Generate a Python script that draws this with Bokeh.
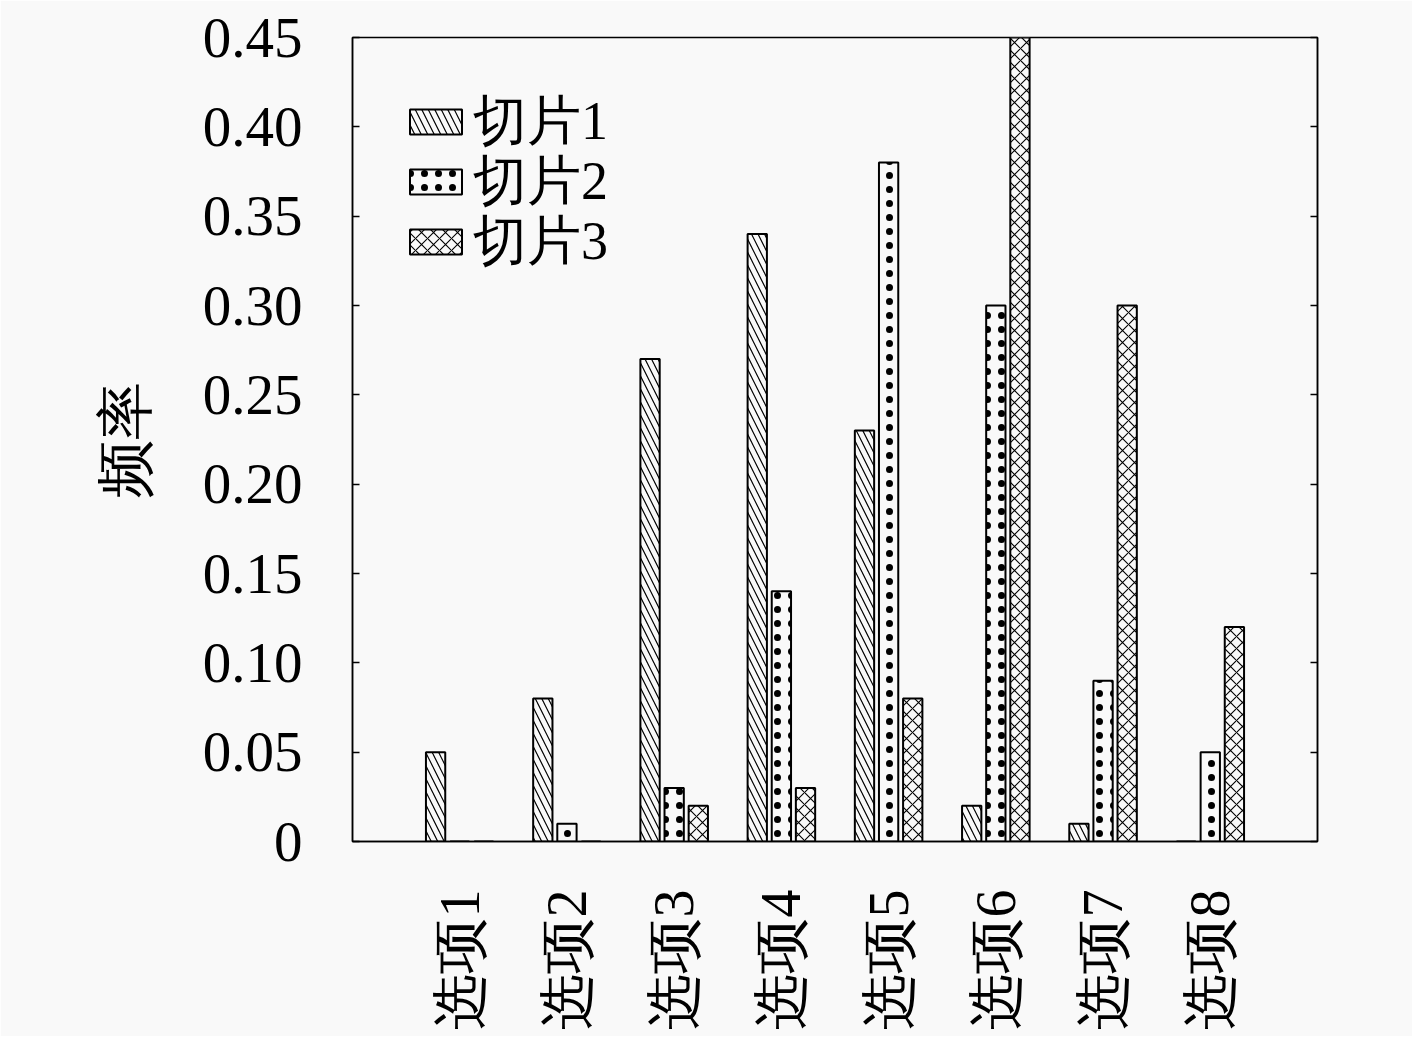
import numpy as np
from bokeh.plotting import figure
from bokeh.models import Range1d, FixedTicker, LinearAxis, Legend, LegendItem
from bokeh.embed import file_html
from bokeh.resources import INLINE

categories = ["选项1", "选项2", "选项3", "选项4", "选项5", "选项6", "选项7", "选项8"]
series_names = ["切片1", "切片2", "切片3"]
slice1 = [0.05, 0.08, 0.27, 0.34, 0.23, 0.02, 0.01, 0.00]
slice2 = [0.00, 0.01, 0.03, 0.14, 0.38, 0.30, 0.09, 0.05]
slice3 = [0.00, 0.00, 0.02, 0.03, 0.08, 0.45, 0.30, 0.12]
y_ticks = [0, 0.05, 0.10, 0.15, 0.20, 0.25, 0.30, 0.35, 0.40, 0.45]
y_tick_labels = ["0", "0.05", "0.10", "0.15", "0.20", "0.25", "0.30", "0.35", "0.40", "0.45"]

BG = "#f9f9f9"
SERIF = "Liberation Serif"

p = figure(width=1412, height=1036, output_backend="svg", toolbar_location=None,
           x_range=Range1d(-1, 8), y_range=Range1d(0, 0.45),
           min_border_left=352, min_border_right=95, min_border_top=37, min_border_bottom=195)
p.background_fill_color = BG
p.border_fill_color = BG
p.outline_line_color = "black"
p.outline_line_width = 1.5
p.grid.visible = False

idx = np.arange(len(categories))
width = 0.18
offs = [-0.225, 0.0, 0.225]
hatches = [dict(hatch_pattern="left_diagonal_line", hatch_scale=13, hatch_weight=1.2),
           dict(hatch_pattern="dot", hatch_scale=14, hatch_weight=2),
           dict(hatch_pattern="diagonal_cross", hatch_scale=12, hatch_weight=1.1)]
renderers = []
for vals, off, h in zip([slice1, slice2, slice3], offs, hatches):
    r = p.vbar(x=idx + off, top=vals, width=width, bottom=0,
               fill_color=BG, line_color="black", line_width=2,
               hatch_color="black", **h)
    renderers.append(r)

# axes
xa = p.xaxis[0]
xa.ticker = FixedTicker(ticks=list(idx))
xa.major_label_overrides = {int(i): c for i, c in zip(idx, categories)}
xa.major_label_orientation = np.pi / 2
xa.major_tick_in = 0
xa.major_tick_out = 0
xa.minor_tick_in = 0
xa.minor_tick_out = 0
xa.major_label_standoff = 48
xa.major_label_text_font = SERIF
xa.major_label_text_font_size = "56px"
xa.major_label_text_color = "black"
xa.axis_line_color = "black"
xa.axis_line_width = 1.5

ya = p.yaxis[0]
ya.ticker = FixedTicker(ticks=y_ticks)
ya.major_label_overrides = {t: l for t, l in zip(y_ticks, y_tick_labels)}
ya.major_tick_in = 7
ya.major_tick_out = 0
ya.minor_tick_in = 0
ya.minor_tick_out = 0
ya.major_tick_line_width = 1.5
ya.major_label_standoff = 50
ya.major_label_text_font = SERIF
ya.major_label_text_font_size = "57px"
ya.major_label_text_color = "black"
ya.axis_line_color = "black"
ya.axis_line_width = 1.5
ya.axis_label = "频率"
ya.axis_label_text_font = SERIF
ya.axis_label_text_font_size = "58px"
ya.axis_label_text_font_style = "normal"
ya.axis_label_text_color = "black"
ya.axis_label_standoff = 42

ra = LinearAxis(ticker=FixedTicker(ticks=y_ticks),
                major_label_overrides={t: "" for t in y_ticks},
                major_tick_in=7, major_tick_out=0, minor_tick_in=0, minor_tick_out=0,
                major_tick_line_width=1.5, axis_line_color="black", axis_line_width=1.5,
                major_label_standoff=0)
p.add_layout(ra, "right")

# one legend per entry so that the row pitch matches the reference
legend_y = [683, 623, 563]
for n, r, ly in zip(series_names, renderers, legend_y):
    lg = Legend(items=[LegendItem(label=n, renderers=[r])],
                location=(51, ly), orientation="vertical",
                glyph_width=65, glyph_height=31, label_height=54, spacing=0,
                label_standoff=5, padding=0, margin=0,
                label_text_font=SERIF, label_text_font_size="54px",
                label_text_color="black", label_text_baseline="middle",
                background_fill_alpha=0, border_line_alpha=0)
    p.add_layout(lg)

open("out.html", "w").write(file_html(p, INLINE))
